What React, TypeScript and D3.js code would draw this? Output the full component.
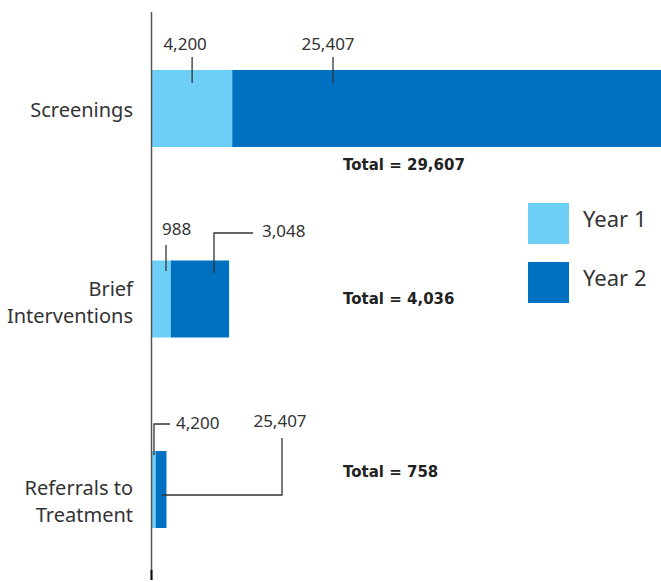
import React from "react";
import * as d3 from "d3";

const categories = ["Screenings", "Brief Interventions", "Referrals to Treatment"];
const categoryLines = [["Screenings"], ["Brief", "Interventions"], ["Referrals to", "Treatment"]];
const year1 = [4200, 988, 190];
const year2 = [25407, 3048, 568];
const totals = [29607, 4036, 758];
const seriesNames = ["Year 1", "Year 2"];
const colors = ["#6dcff6", "#0070c0"];
// value labels as printed in the original (the referrals labels repeat the screenings values)
const labelY1 = ["4,200", "988", "4,200"];
const labelY2 = ["25,407", "3,048", "25,407"];

const W = 661;
const H = 582;
const FONT = "'Noto Sans', 'Open Sans', sans-serif";
const TXT = "#333";

export default function App() {
  const x0 = 152;
  const x = d3.scaleLinear().domain([0, 1]).range([x0, x0 + 0.0191]);
  const y = d3.scalePoint<string>().domain(categories).range([108.5, 489.5]);
  const barH = 77;
  const fmt = d3.format(",");
  const labelOffset = [8.5, -3.5, 5.5];
  const totalOffset = [61.5, 4.5, -12.5];

  const rows = categories.map((c, i) => {
    const cy = y(c)!;
    const top = cy - barH / 2;
    const a0 = x(0), a1 = x(year1[i]), b1 = x(year1[i] + year2[i]);
    return { c, i, cy, top, a0, a1, b1 };
  });

  const r0 = rows[0];

  return (
    <div style={{ position: "absolute", left: 0, top: 0 }}>
      <svg width={W} height={H} style={{ display: "block", fontFamily: FONT }}>
        <rect width={W} height={H} fill="#fff" />
        {rows.map((r) => (
          <g key={r.c}>
            <rect x={r.a0} y={r.top} width={r.a1 - r.a0} height={barH} fill={colors[0]} />
            <rect x={r.a1} y={r.top} width={r.b1 - r.a1} height={barH} fill={colors[1]} />
            {categoryLines[r.i].map((ln, k) => (
              <text
                key={k}
                x={133}
                y={r.cy + labelOffset[r.i] + k * 27}
                textAnchor="end"
                fontSize={20}
                fill={TXT}
              >
                {ln}
              </text>
            ))}
            <text
              x={343}
              y={r.cy + totalOffset[r.i]}
              fontSize={15}
              fontWeight="bold"
              fill="#222"
              style={{ fontFamily: "'DejaVu Sans', sans-serif" }}
            >
              {"Total = " + fmt(totals[r.i])}
            </text>
          </g>
        ))}

        {/* axis line */}
        <line x1={151.5} x2={151.5} y1={12} y2={580} stroke="#555" strokeWidth={1.5} />
        <line x1={151.5} x2={151.5} y1={570} y2={580} stroke="#111" strokeWidth={2} />

        {/* annotations */}
        <g stroke="#333" strokeWidth={1.3} fill="none">
          <line x1={(r0.a0 + r0.a1) / 2} x2={(r0.a0 + r0.a1) / 2} y1={57} y2={83} />
          <line x1={333} x2={333} y1={57} y2={83} />
          <line x1={166} x2={166} y1={245} y2={271} />
          <polyline points={`253,233 214,233 214,273`} />
          <polyline points={`170,424 154,424 154,455`} />
          <polyline points={`162,495 282,495 282,438`} />
        </g>
        <g fontSize={17} fill={TXT}>
          <text x={(r0.a0 + r0.a1) / 2 - 7} y={50} textAnchor="middle">{labelY1[0]}</text>
          <text x={328} y={50} textAnchor="middle">{labelY2[0]}</text>
          <text x={162} y={235}>{labelY1[1]}</text>
          <text x={262} y={237}>{labelY2[1]}</text>
          <text x={176} y={429}>{labelY1[2]}</text>
          <text x={280} y={427} textAnchor="middle">{labelY2[2]}</text>
        </g>

        {/* legend */}
        {seriesNames.map((s, i) => (
          <g key={s}>
            <rect x={528} y={203 + i * 59} width={41} height={41} fill={colors[i]} />
            <text x={583} y={227 + i * 59} fontSize={22} fill={TXT}>{s}</text>
          </g>
        ))}
      </svg>
    </div>
  );
}
